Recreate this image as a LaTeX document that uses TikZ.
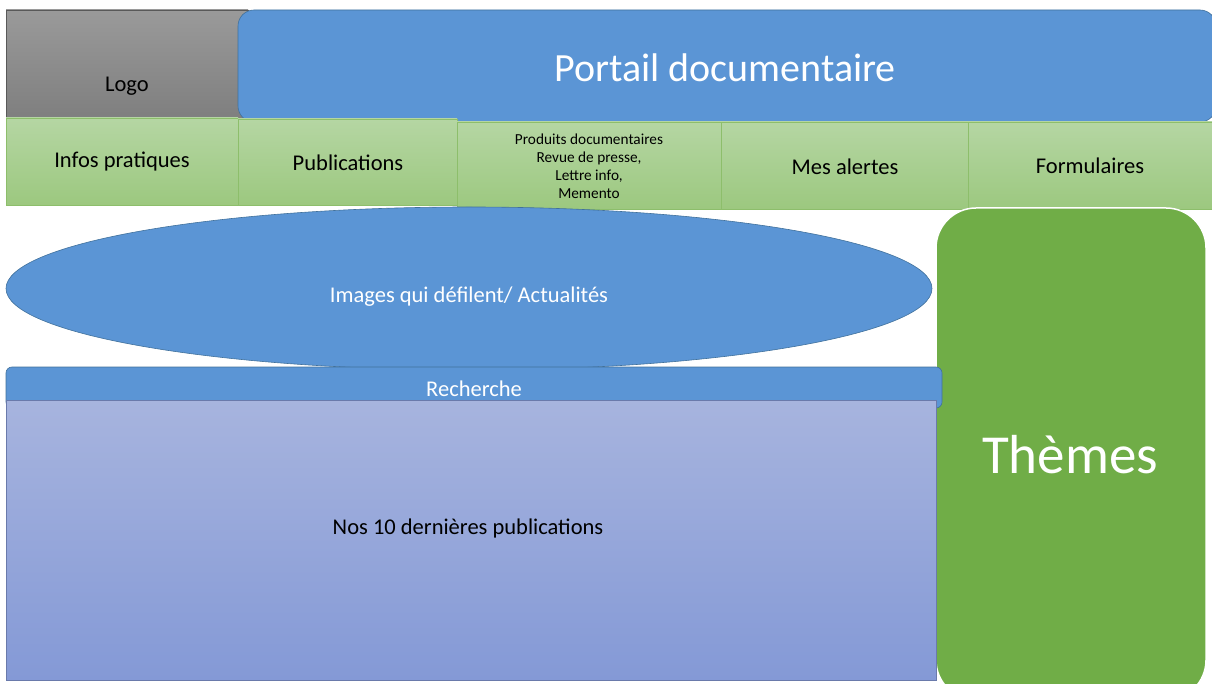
\documentclass[tikz,border=0pt]{standalone}
\usepackage{fontspec}
\setmainfont{Carlito}
\usetikzlibrary{shapes.geometric}
\definecolor{blu}{HTML}{5B95D5}
\definecolor{bluedge}{HTML}{41719C}
\definecolor{grnlt}{HTML}{B5D6A3}
\definecolor{grndk}{HTML}{9CC87F}
\definecolor{grnedge}{HTML}{8DBE6B}
\definecolor{themes}{HTML}{70AD47}
\definecolor{lavtop}{HTML}{A7B4DE}
\definecolor{lavbot}{HTML}{8499D6}
\definecolor{gtop}{HTML}{9A9A9A}
\definecolor{gbot}{HTML}{7F7F7F}
\tikzset{
  tab/.style={draw=grnedge, line width=0.6pt, top color=grnlt, bottom color=grndk, inner sep=0pt},
  txt/.style={font=\fontsize{22.5}{26}\selectfont},
  bluebox/.style={fill=blu, draw=bluedge, line width=0.6pt},
  whitetxt/.style={text=white},
}
\begin{document}
\begin{tikzpicture}[x=1pt,y=-1pt]
\useasboundingbox (0,0) rectangle (1212,684);
% Logo
\path[draw=gray!70!black, line width=0.5pt, top color=gtop, bottom color=gbot] (6,10) rectangle (248,118);
\node[txt] (logo) at (127,86) {Logo};
% Portail
\draw[bluebox, rounded corners=16pt] (238,10) rectangle (1216,122);
\node[whitetxt, font=\fontsize{40}{46}\selectfont] (portail) at (725,68) {Portail documentaire};
% Tabs
\path[tab] (6,118) rectangle (238,205);
\node[txt] (infos) at (122,162) {Infos pratiques};
\path[tab] (238,119) rectangle (457,205);
\node[txt] (pubs) at (348,163) {Publications};
\path[tab] (457,122) rectangle (721,209);
\node[font=\fontsize{15.3}{18}\selectfont, align=center] (prod) at (589,166) {Produits documentaires\\Revue de presse,\\Lettre info,\\Memento};
\path[tab] (721,122) rectangle (968,209);
\node[txt] (alertes) at (845,167) {Mes alertes};
\path[tab] (968,122) rectangle (1216,209);
\node[txt] (form) at (1090,166) {Formulaires};
% Ellipse
\draw[bluebox] (469,288.5) ellipse [x radius=463, y radius=81.5];
\node[whitetxt, txt] (images) at (469,297) {Images qui défilent/ Actualités};
% Themes
\draw[fill=themes, draw=white, line width=1.5pt, rounded corners=40pt] (936,208) rectangle (1206,700);
\node[whitetxt, font=\fontsize{55}{62}\selectfont] (themesnode) at (1070,455) {Thèmes};
% Recherche
\draw[bluebox, rounded corners=6pt] (6,367) rectangle (942,408);
\node[whitetxt, txt] (rech) at (474,389) {Recherche};
% Nos 10
\path[top color=lavtop, bottom color=lavbot, draw=lavbot!80!black, line width=0.4pt] (6,400) rectangle (936,680);
\node[txt] (nos) at (468,528) {Nos 10 dernières publications};
\end{tikzpicture}
\end{document}
